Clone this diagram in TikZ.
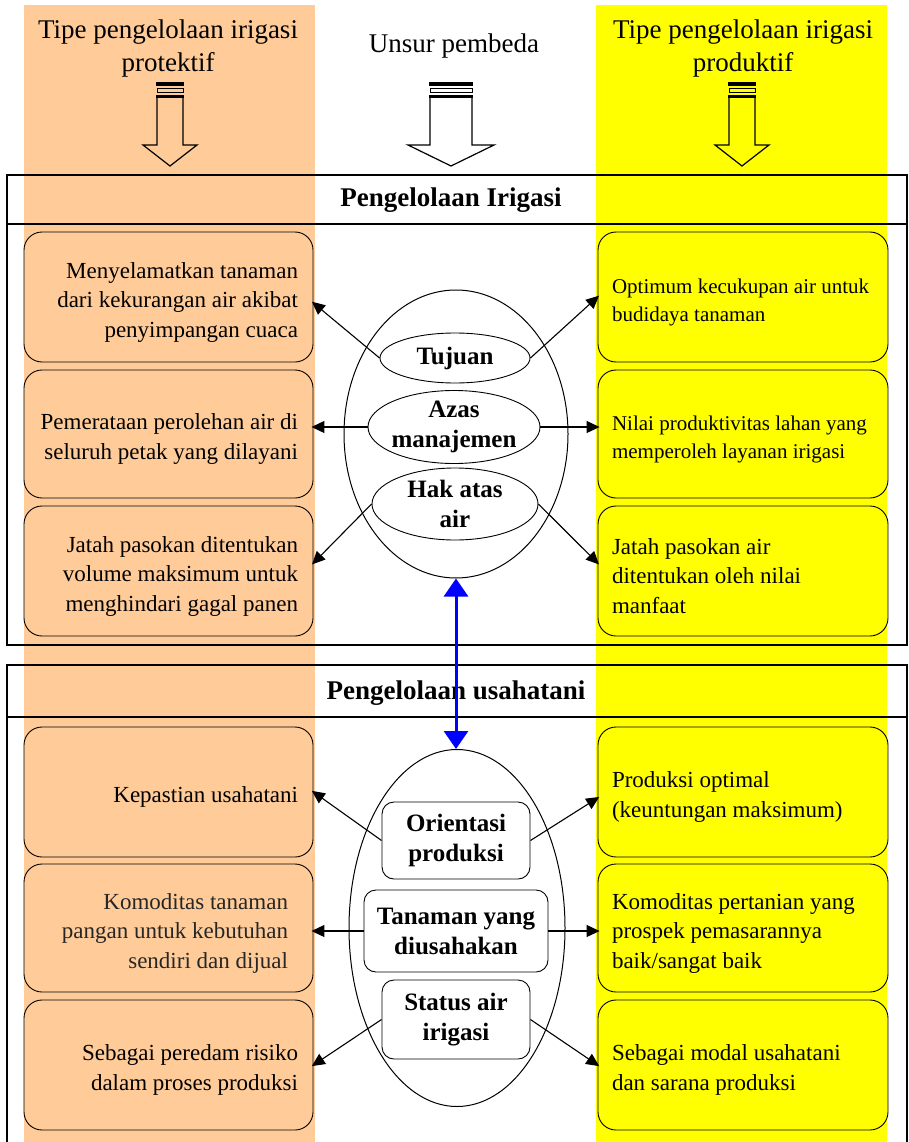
\documentclass[tikz,border=0pt]{standalone}
\usepackage{fontspec}
\setmainfont{Liberation Serif}
\usetikzlibrary{shapes.geometric,arrows.meta}
\definecolor{peach}{RGB}{255,204,153}
\definecolor{yel}{RGB}{255,255,0}
\newcommand{\blkarrow}[3]{%
  \fill ({#1-#2-1},82) rectangle ({#1+#2+1},86);
  \draw[line width=1pt] ({#1-#2},89) rectangle ({#1+#2},93);
  \fill ({#1-#2-1},95.5) rectangle ({#1+#2+1},98);
  \draw[line width=1.2pt,line join=miter] ({#1-#2},97) -- ({#1-#2},145) -- ({#1-#3},145) -- (#1,166) -- ({#1+#3},145) -- ({#1+#2},145) -- ({#1+#2},97);
}
\newcommand{\tstrut}{\rule{0pt}{26pt}}
\tikzset{
  basefont/.style={font=\fontsize{23}{29.5}\selectfont},
  lbox/.style={draw, line width=0.9pt, rounded corners=18pt, fill=peach, minimum width=289pt, minimum height=130pt, text width=259pt, inner xsep=15pt, align=flush right, basefont, execute at begin node=\tstrut},
  rbox/.style={draw, line width=0.9pt, rounded corners=18pt, fill=yel, minimum width=290pt, minimum height=130pt, text width=262pt, inner xsep=14pt, align=flush left, basefont, execute at begin node=\tstrut},
  smallfont/.style={font=\fontsize{21}{28.5}\selectfont},
  bigell/.style={draw, ellipse, line width=1pt, inner sep=0pt},
  smell/.style={draw, ellipse, line width=0.9pt, inner sep=0pt},
  ibox/.style={draw, rounded corners=12pt, line width=0.9pt, inner sep=0pt},
  lab/.style={font=\bfseries\fontsize{25}{30}\selectfont, align=center},
  titl/.style={font=\fontsize{27}{33}\selectfont, align=center},
  head/.style={font=\bfseries\fontsize{27}{33}\selectfont},
  arr/.style={-{Triangle[length=13pt,width=12pt]}, line width=1.1pt, shorten >=-2pt},
  barr/.style={{Triangle[length=18pt,width=24pt]}-{Triangle[length=18pt,width=24pt]}, line width=3pt, blue},
  frame/.style={line width=1.5pt},
}
\begin{document}
\begin{tikzpicture}[x=1pt,y=-1pt]
\useasboundingbox (0,0) rectangle (909,1142);
% column backgrounds
\fill[peach] (24,5) rectangle (315,1142);
\fill[yel] (596,5) rectangle (887,1142);
% titles
\node[titl] (tl) at (168,49) {Tipe pengelolaan irigasi\\protektif};
\node[titl] (tm) at (454,46) {Unsur pembeda};
\node[titl] (tr) at (743,49) {Tipe pengelolaan irigasi\\produktif};
% block arrows
\blkarrow{170}{13}{27}
\blkarrow{451}{21}{43}
\blkarrow{742}{13}{27}
% frames
\draw[frame] (7,175) rectangle (907,645);
\draw[line width=1.2pt] (7,224) -- (907,224);
\draw[frame] (7,1150) -- (7,665) -- (907,665) -- (907,1150);
\draw[line width=1.2pt] (7,717) -- (907,717);
\node[head] (h1) at (451,200) {Pengelolaan Irigasi};
\node[head] (h2) at (456,693) {Pengelolaan usahatani};
% left boxes (upper)
\node[lbox] (L1) at (168.5,297) {Menyelamatkan tanaman\\dari kekurangan air akibat\\penyimpangan cuaca};
\node[lbox, minimum height=128pt] (L2) at (168.5,434) {Pemerataan perolehan air di\\seluruh petak yang dilayani};
\node[lbox] (L3) at (168.5,571) {Jatah pasokan ditentukan\\volume maksimum untuk\\menghindari gagal panen};
% right boxes (upper)
\node[rbox, smallfont] (R1) at (743,297) {Optimum kecukupan air untuk\\budidaya tanaman};
\node[rbox, smallfont, minimum height=128pt] (R2) at (743,434) {Nilai produktivitas lahan yang\\memperoleh layanan irigasi};
\node[rbox] (R3) at (743,571) {Jatah pasokan air\\ditentukan oleh nilai\\manfaat};
% left boxes (lower)
\node[lbox] (L4) at (168.5,792) {Kepastian usahatani};
\node[lbox, minimum height=128pt, text width=239pt, text=black!85] (L5) at (168.5,928) {Komoditas tanaman\\pangan untuk kebutuhan\\sendiri dan dijual};
\node[lbox] (L6) at (168.5,1065) {Sebagai peredam risiko\\dalam proses produksi};
% right boxes (lower)
\node[rbox] (R4) at (743,792) {Produksi optimal\\(keuntungan maksimum)};
\node[rbox, minimum height=128pt] (R5) at (743,928) {Komoditas pertanian yang\\prospek pemasarannya\\baik/sangat baik};
\node[rbox] (R6) at (743,1065) {Sebagai modal usahatani\\dan sarana produksi};
% upper ellipse group
\node[bigell, minimum width=224pt, minimum height=288pt] (E1) at (456,434) {};
\node[smell, minimum width=150pt, minimum height=50pt] (tuj) at (455,358) {};
\node[lab] at (tuj) {Tujuan};
\node[smell, minimum width=172pt, minimum height=73pt] (azas) at (454,427) {};
\node[lab] at (azas) {Azas\\manajemen};
\node[smell, minimum width=166pt, minimum height=72pt] (hak) at (455,504) {};
\node[lab] at (hak) {Hak atas\\air};
% lower ellipse group
\node[bigell, minimum width=216pt, minimum height=357pt] (E2) at (457,928) {};
\node[ibox, minimum width=148pt, minimum height=77pt] (ori) at (456,840.5) {};
\node[lab] at (ori) {Orientasi\\produksi};
\node[ibox, minimum width=184pt, minimum height=82pt] (tan) at (456,931) {};
\node[lab] at (tan) {Tanaman yang\\diusahakan};
\node[ibox, minimum width=148pt, minimum height=79pt] (sta) at (456,1019.5) {};
\node[lab] at (sta) {Status air\\irigasi};
% arrows upper
\draw[arr] (tuj.west) -- ([yshift=-6pt]L1.east);
\draw[arr] (tuj.east) -- (R1.west);
\draw[arr] (azas.west) -- (azas.west -| L2.east);
\draw[arr] (azas.east) -- (azas.east -| R2.west);
\draw[arr] (hak.west) -- ([yshift=8pt]L3.east);
\draw[arr] (hak.east) -- ([yshift=8pt]R3.west);
% arrows lower
\draw[arr] (ori.west) -- (L4.east);
\draw[arr] (ori.east) -- ([yshift=-6pt]R4.west);
\draw[arr] (tan.west) -- (tan.west -| L5.east);
\draw[arr] (tan.east) -- (tan.east -| R5.west);
\draw[arr] (sta.west) -- (L6.east);
\draw[arr] (sta.east) -- (R6.west);
% blue double arrow
\draw[barr] (E1.south) -- (E1.south |- E2.north);
\end{tikzpicture}
\end{document}
